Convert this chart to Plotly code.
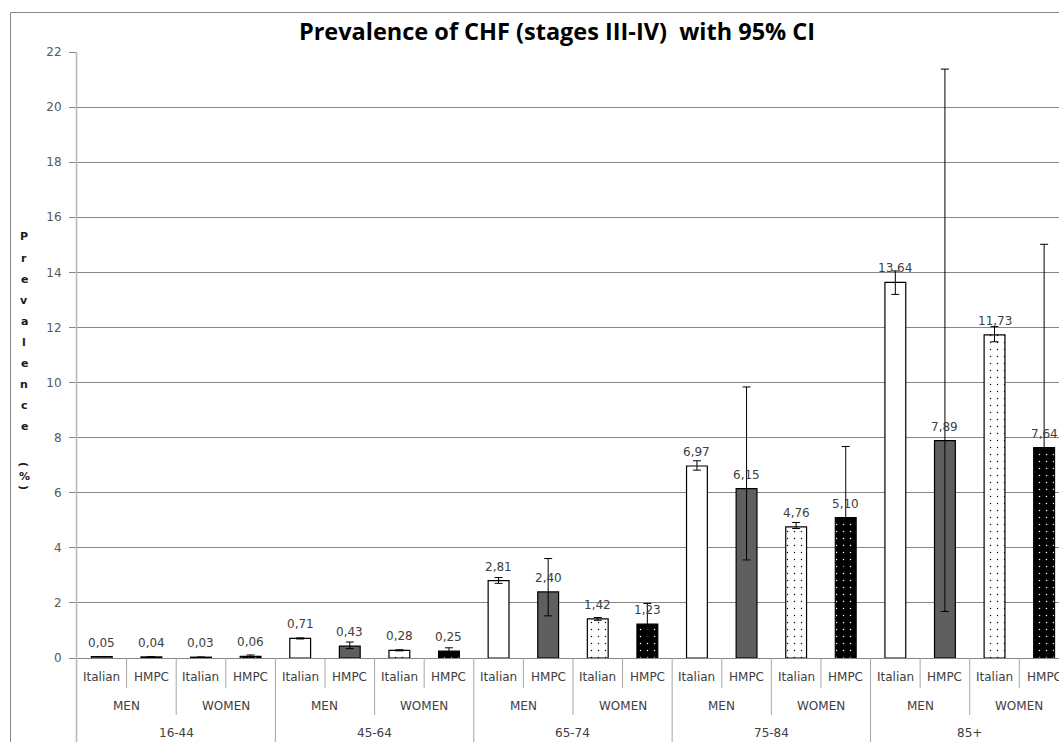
import plotly.graph_objects as go

# ---------------- data ----------------
age_groups = ["16-44", "45-64", "65-74", "75-84", "85+"]
sexes = ["MEN", "WOMEN"]
sources = ["Italian", "HMPC"]

italian_men = [0.05, 0.71, 2.81, 6.97, 13.64]
italian_men_lo = [0.045, 0.69, 2.71, 6.82, 13.20]
italian_men_hi = [0.055, 0.73, 2.92, 7.16, 14.05]

hmpc_men = [0.04, 0.43, 2.40, 6.15, 7.89]
hmpc_men_lo = [0.03, 0.34, 1.53, 3.56, 1.69]
hmpc_men_hi = [0.05, 0.58, 3.61, 9.84, 21.38]

italian_women = [0.03, 0.28, 1.42, 4.76, 11.73]
italian_women_lo = [0.025, 0.26, 1.37, 4.70, 11.48]
italian_women_hi = [0.035, 0.30, 1.47, 4.92, 12.03]

hmpc_women = [0.06, 0.25, 1.23, 5.10, 7.64]
hmpc_women_lo = [0.03, 0.14, 0.60, 3.30, 3.40]
hmpc_women_hi = [0.11, 0.37, 1.98, 7.68, 15.02]

y_ticks = [0, 2, 4, 6, 8, 10, 12, 14, 16, 18, 20, 22]
title_text = "Prevalence of CHF (stages III-IV)\u00a0\u00a0with 95% CI"
y_title = "Prevalence (%)"

# ---------------- geometry helpers ----------------
W, H = 1059, 742
L, T = 77, 52
PW, PH = W - L, 606
BASE = T + PH


def px_x(px):
    return (px - L) / PW


def px_y(py):
    return (BASE - py) / PH


series = [
    (0, 0, italian_men, italian_men_lo, italian_men_hi,
     dict(color="white", line=dict(color="black", width=1.2))),
    (0, 1, hmpc_men, hmpc_men_lo, hmpc_men_hi,
     dict(color="#5f5f5f", line=dict(color="black", width=1.2))),
    (1, 0, italian_women, italian_women_lo, italian_women_hi,
     dict(color="white", line=dict(color="black", width=1.2),
          pattern=dict(shape=".", fgcolor="black", bgcolor="white",
                       size=7, solidity=0.03, fillmode="replace"))),
    (1, 1, hmpc_women, hmpc_women_lo, hmpc_women_hi,
     dict(color="black", line=dict(color="black", width=1.2),
          pattern=dict(shape=".", fgcolor="white", bgcolor="black",
                       size=7, solidity=0.035, fillmode="replace"))),
]

n_per_age = len(sexes) * len(sources)

fig = go.Figure()
annotations = []
label_font = dict(family="DejaVu Sans", size=12, color="#404040")

for s, r, vals, lo, hi, marker in series:
    xs = [a * n_per_age + s * len(sources) + r for a in range(len(age_groups))]
    fig.add_trace(go.Bar(
        x=xs, y=vals, width=0.42, marker=marker,
        error_y=dict(type="data", symmetric=False,
                     array=[h - v for h, v in zip(hi, vals)],
                     arrayminus=[v - l for v, l in zip(vals, lo)],
                     color="black", thickness=1, width=4),
        showlegend=False, hoverinfo="skip",
    ))
    for x, v in zip(xs, vals):
        annotations.append(dict(
            x=x, y=v, xref="x", yref="y", yshift=14, showarrow=False,
            text=f"{v:.2f}".replace(".", ","), font=label_font,
            xanchor="center", yanchor="middle"))

shapes = []
n_total = len(age_groups) * n_per_age
div_color = "#a6a6a6"

# category labels and dividers
for a, age in enumerate(age_groups):
    for s, sex in enumerate(sexes):
        for r, src in enumerate(sources):
            idx = a * n_per_age + s * len(sources) + r
            annotations.append(dict(
                x=idx, y=px_y(677), xref="x", yref="paper", showarrow=False,
                text=src, font=label_font, xanchor="center", yanchor="middle"))
        center = a * n_per_age + s * len(sources) + (len(sources) - 1) / 2
        annotations.append(dict(
            x=center, y=px_y(706), xref="x", yref="paper", showarrow=False,
            text=sex, font=label_font, xanchor="center", yanchor="middle"))
    center = a * n_per_age + (n_per_age - 1) / 2
    annotations.append(dict(
        x=center, y=px_y(733), xref="x", yref="paper", showarrow=False,
        text=age, font=label_font, xanchor="center", yanchor="middle"))

for i in range(1, n_total):
    xb = i - 0.5
    if i % n_per_age == 0:
        y_end = px_y(760)
    elif i % len(sources) == 0:
        y_end = px_y(715)
    else:
        y_end = px_y(688)
    shapes.append(dict(type="line", xref="x", yref="paper", x0=xb, x1=xb,
                       y0=0, y1=y_end, line=dict(color=div_color, width=1)))

# left axis line (extends through the category rows)
shapes.append(dict(type="line", xref="paper", yref="paper", x0=px_x(76.5), x1=px_x(76.5),
                   y0=1, y1=px_y(760), line=dict(color="#b8b8b8", width=1.6)))

# outer chart border
shapes.append(dict(type="rect", xref="paper", yref="paper",
                   x0=px_x(10.5), x1=px_x(1200), y0=px_y(12.5), y1=px_y(800),
                   line=dict(color="#868686", width=1), fillcolor="rgba(0,0,0,0)",
                   layer="below"))

# vertical stacked y-axis title
ytitle_font = dict(family="DejaVu Sans", size=11, color="#1a1a1a", weight="bold")
letters = y_title.split(" ")[0]
for i, ch in enumerate(letters):
    annotations.append(dict(
        x=px_x(24), y=px_y(237 + i * 21.1), xref="paper", yref="paper",
        showarrow=False, text=ch, font=ytitle_font,
        xanchor="center", yanchor="middle"))
tail = y_title.split(" ")[1]
tail_pos = [464, 476, 487]
for ch, py in zip(tail, tail_pos):
    annotations.append(dict(
        x=px_x(24), y=px_y(py), xref="paper", yref="paper",
        showarrow=False, text=ch, font=ytitle_font,
        textangle=90 if ch in "()" else 0,
        xanchor="center", yanchor="middle"))

fig.update_layout(
    width=W, height=H,
    margin=dict(l=L, r=0, t=T, b=H - BASE),
    paper_bgcolor="white", plot_bgcolor="white",
    barmode="overlay",
    title=dict(text=title_text, xref="container", yref="container",
               x=557 / W, y=1 - 32 / H, xanchor="center", yanchor="middle",
               font=dict(family="Open Sans", size=23.5, color="black", weight="bold")),
    xaxis=dict(range=[-0.5, 19.3], showgrid=False, showticklabels=False,
               zeroline=False, showline=False, ticks=""),
    yaxis=dict(range=[0, 22], tickvals=y_ticks, ticktext=[str(t) for t in y_ticks],
               showgrid=True, gridcolor="#878787", gridwidth=1,
               zeroline=True, zerolinecolor="#878787", zerolinewidth=1,
               ticks="outside", ticklen=7, tickcolor="#878787",
               showline=False, ticklabelstandoff=5,
               tickfont=dict(family="DejaVu Sans", size=12, color="#595959")),
    shapes=shapes,
    annotations=annotations,
)

fig.write_html("out.html",
               config={"displayModeBar": False},
               post_script="document.body.style.margin='0';"
                           "document.body.style.overflow='hidden';")
